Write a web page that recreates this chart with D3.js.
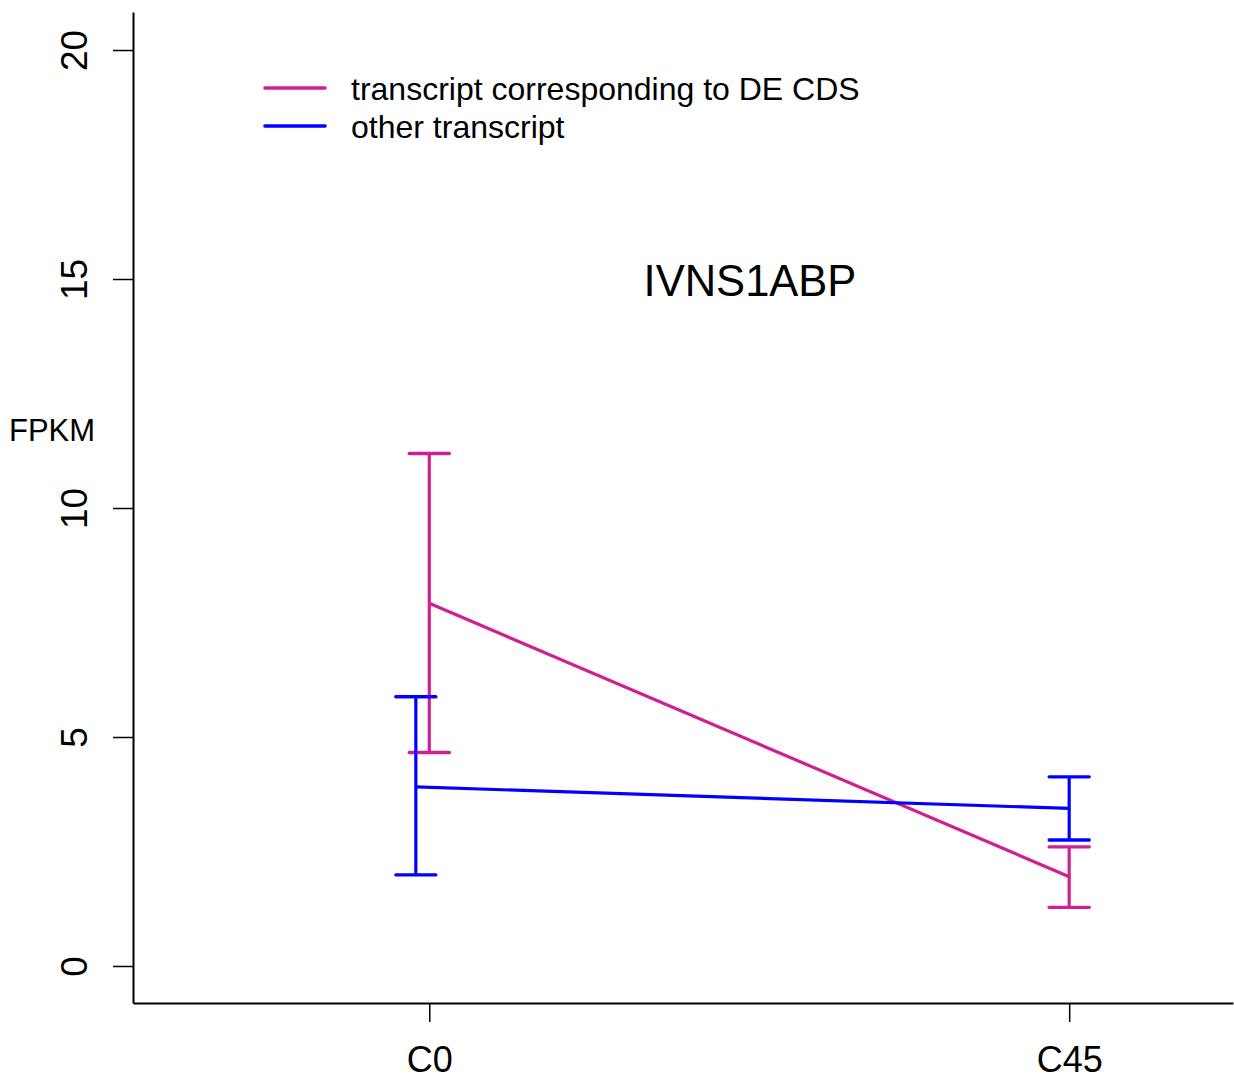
<!DOCTYPE html>
<html>
<head>
<meta charset="utf-8">
<script src="https://cdn.jsdelivr.net/npm/d3@7/dist/d3.min.js"></script>
<style>
  html, body { margin: 0; padding: 0; background: #fff; }
  svg { display: block; }
  text { font-family: "Liberation Sans", Arial, Helvetica, sans-serif; fill: #000; }
</style>
</head>
<body>
<svg id="chart" width="1234" height="1078"></svg>
<script>
// ---- data ----
const categories = ["C0", "C45"];
const yTicks = [0, 5, 10, 15, 20];
const seriesNames = ["transcript corresponding to DE CDS", "other transcript"];
const seriesColors = ["#D02090", "#0000FF"];

const deMean  = [7.92, 1.95];
const deLower = [4.66, 1.28];
const deUpper = [11.19, 2.60];
const deOffset = [0, 0];

const otherMean  = [3.91, 3.44];
const otherLower = [1.99, 2.75];
const otherUpper = [5.88, 4.13];
const otherOffset = [-0.021, 0];

const geneName = "IVNS1ABP";
const yLabel = "FPKM";

// ---- layout ----
const svg = d3.select("#chart");
const x = d3.scaleLinear().domain([-0.463, 1.256]).range([133, 1233]);
const y = d3.scaleLinear().domain([-0.808, 20.83]).range([1003, 12]);

const series = [
  { mean: deMean, lo: deLower, hi: deUpper, off: deOffset, color: seriesColors[0] },
  { mean: otherMean, lo: otherLower, hi: otherUpper, off: otherOffset, color: seriesColors[1] }
];

// y axis
const yAxis = svg.append("g").attr("transform", "translate(133,0)")
  .call(d3.axisLeft(y).tickValues(yTicks).tickSizeInner(20).tickSizeOuter(0).tickFormat(d3.format("d")));
yAxis.select(".domain").attr("stroke", "#000").attr("stroke-width", 2);
yAxis.selectAll(".tick line").attr("stroke", "#000").attr("stroke-width", 1.5);
yAxis.selectAll(".tick text").remove();
yAxis.selectAll(".tick").append("text")
  .attr("transform", "translate(-46,0) rotate(-90)")
  .attr("text-anchor", "middle")
  .style("font-size", "37px")
  .text(d => d);

// x axis
const xAxis = svg.append("g").attr("transform", "translate(0,1003)")
  .call(d3.axisBottom(x).tickValues(categories.map((c, i) => i)).tickSizeInner(19).tickSizeOuter(0).tickFormat(i => categories[i]));
xAxis.select(".domain").attr("stroke", "#000").attr("stroke-width", 2);
xAxis.selectAll(".tick line").attr("stroke", "#000").attr("stroke-width", 1.5);
xAxis.selectAll(".tick text")
  .attr("y", 0).attr("dy", null)
  .attr("transform", "translate(0,68.5)")
  .style("font-size", "36px")
  .attr("fill", "#000");

// series
const capHalf = 20;
series.forEach(s => {
  const g = svg.append("g");
  const pts = s.mean.map((m, i) => [x(i + s.off[i]), y(m)]);
  g.append("path")
    .attr("d", d3.line()(pts))
    .attr("fill", "none").attr("stroke", s.color).attr("stroke-width", 3.2);
  s.mean.forEach((m, i) => {
    const cx = x(i + s.off[i]);
    g.append("line").attr("x1", cx).attr("x2", cx).attr("y1", y(s.lo[i])).attr("y2", y(s.hi[i]))
      .attr("stroke", s.color).attr("stroke-width", 3.2);
    [s.lo[i], s.hi[i]].forEach(v => {
      g.append("line").attr("x1", cx - capHalf).attr("x2", cx + capHalf).attr("y1", y(v)).attr("y2", y(v))
        .attr("stroke", s.color).attr("stroke-width", 3.4).attr("stroke-linecap", "round");
    });
  });
});

// title
svg.append("text").attr("x", 750).attr("y", 296).attr("text-anchor", "middle")
  .style("font-size", "43.5px").text(geneName);

// y label
svg.append("text").attr("x", 9).attr("y", 441).style("font-size", "31px").text(yLabel);

// legend
const legY = [88, 126];
seriesNames.forEach((name, i) => {
  svg.append("line").attr("x1", 265).attr("x2", 325).attr("y1", legY[i]).attr("y2", legY[i])
    .attr("stroke", seriesColors[i]).attr("stroke-width", 3.6).attr("stroke-linecap", "round");
  svg.append("text").attr("x", 351).attr("y", legY[i] + 11.5).style("font-size", "32px").text(name);
});
</script>
</body>
</html>
